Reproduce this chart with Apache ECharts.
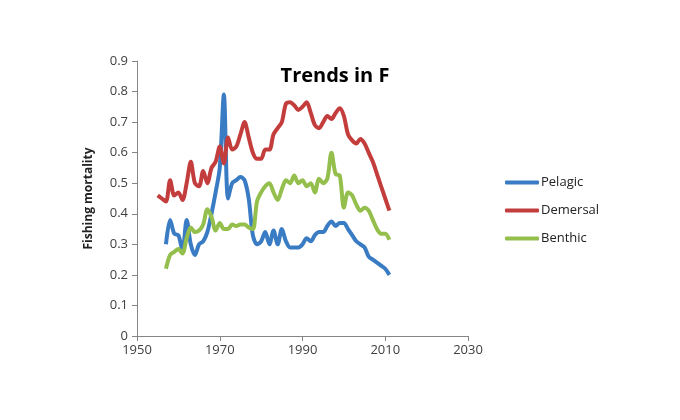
<!DOCTYPE html>
<html>
<head>
<meta charset="utf-8">
<script src="https://cdn.jsdelivr.net/npm/echarts@6/dist/echarts.min.js"></script>
<style>
  html, body { margin: 0; padding: 0; background: #fff; }
  #chart { width: 680px; height: 420px; }
</style>
</head>
<body>
<div id="chart"></div>
<script>
// data (fishing mortality by year)
var xTicks = [1950, 1970, 1990, 2010, 2030];
var yTicks = [0, 0.1, 0.2, 0.3, 0.4, 0.5, 0.6, 0.7, 0.8, 0.9];

var pelagicStart = 1957;
var pelagic = [0.30, 0.38, 0.335, 0.33, 0.28, 0.38, 0.30, 0.265, 0.30, 0.31,
    0.34, 0.40, 0.47, 0.55, 0.79, 0.45, 0.50, 0.51, 0.52, 0.51,
    0.45, 0.33, 0.30, 0.31, 0.34, 0.30, 0.345, 0.30, 0.35, 0.31,
    0.29, 0.29, 0.29, 0.30, 0.32, 0.31, 0.33, 0.34, 0.34, 0.36,
    0.375, 0.36, 0.37, 0.37, 0.35, 0.33, 0.31, 0.30, 0.29, 0.26,
    0.25, 0.24, 0.23, 0.22, 0.20];

var demersalStart = 1955;
var demersal = [0.46, 0.45, 0.44, 0.51, 0.46, 0.47, 0.445, 0.50, 0.57, 0.50,
    0.49, 0.54, 0.50, 0.55, 0.57, 0.62, 0.565, 0.65, 0.61, 0.62,
    0.66, 0.70, 0.65, 0.60, 0.58, 0.58, 0.61, 0.61, 0.66, 0.68,
    0.70, 0.76, 0.765, 0.755, 0.74, 0.75, 0.765, 0.73, 0.69, 0.68,
    0.70, 0.72, 0.71, 0.73, 0.745, 0.72, 0.66, 0.64, 0.63, 0.645,
    0.63, 0.60, 0.57, 0.53, 0.49, 0.45, 0.41];

var benthicStart = 1957;
var benthic = [0.22, 0.265, 0.275, 0.285, 0.27, 0.32, 0.355, 0.34, 0.345, 0.365,
    0.415, 0.39, 0.345, 0.37, 0.35, 0.35, 0.365, 0.36, 0.365, 0.365,
    0.355, 0.35, 0.44, 0.47, 0.49, 0.50, 0.47, 0.445, 0.48, 0.51,
    0.50, 0.525, 0.50, 0.51, 0.49, 0.50, 0.47, 0.515, 0.50, 0.515,
    0.60, 0.53, 0.525, 0.42, 0.47, 0.46, 0.43, 0.41, 0.42, 0.41,
    0.38, 0.35, 0.335, 0.335, 0.315];

function pairs(start, values) {
    return values.map(function(v, i) { return [start + i, v]; });
}

var chart = echarts.init(document.getElementById('chart'));

var axisGray = '#868686';
var labelStyle = { color: '#404040', fontSize: 13, fontFamily: 'Open Sans' };

chart.setOption({
    animation: false,
    title: {
        text: 'Trends in F',
        left: 330,
        top: 61,
        textAlign: 'center',
        textStyle: { fontFamily: 'Open Sans', fontWeight: 'bold', fontSize: 20, color: '#000' }
    },
    legend: {
        orient: 'vertical',
        left: 500,
        top: 171,
        itemWidth: 34,
        itemHeight: 4,
        itemGap: 15,
        icon: 'roundRect',
        textStyle: { fontFamily: 'Open Sans', fontSize: 13, color: '#222', padding: [0, 0, 0, -3] },
        data: ['Pelagic', 'Demersal', 'Benthic']
    },
    grid: { left: 137, right: 212, top: 61, bottom: 84 },
    xAxis: {
        type: 'value',
        min: xTicks[0],
        max: xTicks[xTicks.length - 1],
        interval: 20,
        splitLine: { show: false },
        axisLine: { lineStyle: { color: axisGray } },
        axisTick: { show: true, length: 5, lineStyle: { color: axisGray } },
        axisLabel: Object.assign({ margin: 8, formatter: function(v) { return String(v); } }, labelStyle)
    },
    yAxis: {
        type: 'value',
        min: yTicks[0],
        max: yTicks[yTicks.length - 1],
        interval: 0.1,
        name: 'Fishing mortality',
        nameLocation: 'middle',
        nameGap: 42,
        nameTextStyle: { fontFamily: 'Open Sans', fontWeight: 'bold', fontSize: 12, color: '#222' },
        splitLine: { show: false },
        axisLine: { show: true, lineStyle: { color: axisGray } },
        axisTick: { show: true, length: 5, lineStyle: { color: axisGray } },
        axisLabel: Object.assign({ margin: 9 }, labelStyle)
    },
    series: [
        {
            name: 'Pelagic', type: 'line', smooth: 0.3, showSymbol: false,
            lineStyle: { width: 4, color: '#3a7cc4' }, itemStyle: { color: '#3a7cc4' },
            data: pairs(pelagicStart, pelagic)
        },
        {
            name: 'Demersal', type: 'line', smooth: 0.3, showSymbol: false,
            lineStyle: { width: 4, color: '#c43d3d' }, itemStyle: { color: '#c43d3d' },
            data: pairs(demersalStart, demersal)
        },
        {
            name: 'Benthic', type: 'line', smooth: 0.3, showSymbol: false,
            lineStyle: { width: 4, color: '#94bf4c' }, itemStyle: { color: '#94bf4c' },
            data: pairs(benthicStart, benthic)
        }
    ]
});
</script>
</body>
</html>
